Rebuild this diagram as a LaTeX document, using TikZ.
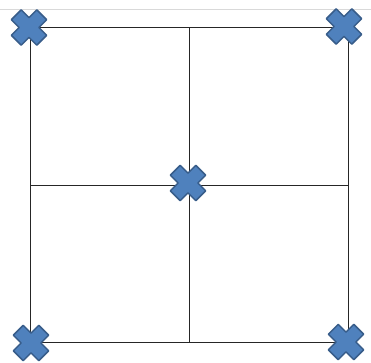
\documentclass[tikz,border=0pt]{standalone}
\begin{document}
\begin{tikzpicture}[x=1pt,y=-1pt,
  gridline/.style={draw=black!85,line width=1pt},
  topline/.style={draw=black!15,line width=0.8pt},
  crossshape/.style={fill={rgb,255:red,79;green,129;blue,189},draw={rgb,255:red,56;green,93;blue,138},line width=1.5pt,line join=round}]
\useasboundingbox (0,0) rectangle (371,362);
\draw[topline] (0,9.5) -- (371,9.5);
\coordinate (tl) at (30,27);
\coordinate (tr) at (348,27);
\coordinate (bl) at (30,342);
\coordinate (br) at (348,342);
\coordinate (tm) at (189,27);
\coordinate (bm) at (189,342);
\coordinate (lm) at (30,185);
\coordinate (rm) at (348,185);
\draw[gridline] (tl) rectangle (br);
\draw[gridline] (tm) -- (bm);
\draw[gridline] (lm) -- (rm);
\foreach \cx/\cy in {29/27.5, 344/26.5, 188/183, 31/343, 346/342}{
  \begin{scope}[shift={(\cx,\cy)},rotate=45]
    \path[crossshape] (-7,-18) -- (7,-18) -- (7,-7) -- (18,-7) -- (18,7) -- (7,7) -- (7,18) -- (-7,18) -- (-7,7) -- (-18,7) -- (-18,-7) -- (-7,-7) -- cycle;
  \end{scope}
}
\end{tikzpicture}
\end{document}
